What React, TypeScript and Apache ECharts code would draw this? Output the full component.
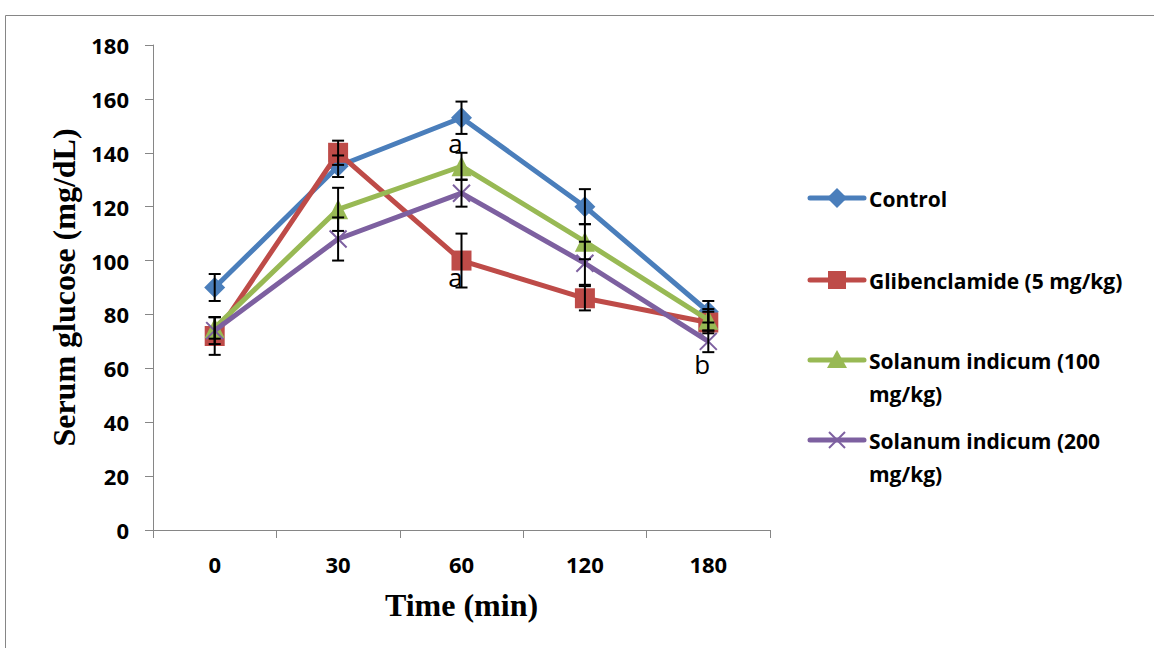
import React, { useEffect, useRef } from "react";
import * as echarts from "echarts";

const categories = ["0", "30", "60", "120", "180"];
const seriesNames = [
  "Control",
  "Glibenclamide (5 mg/kg)",
  "Solanum indicum (100 mg/kg)",
  "Solanum indicum (200 mg/kg)",
];
const controlValues = [90, 135, 153, 120, 81];
const glibValues = [72, 140, 100, 86, 77];
const sol100Values = [75, 119, 135, 107, 78];
const sol200Values = [74, 108, 125, 99, 70];
const controlErr = [5, 4, 6, 6.5, 4];
const glibErr = [7, 4.5, 10, 4.5, 4];
const sol100Err = [4, 8, 5, 6.5, 4];
const sol200Err = [5, 8, 5, 8, 4];
const annotations = [
  { x: 2, y: 143.5, text: "a" },
  { x: 2, y: 94, text: "a" },
  { x: 4, y: 61.5, text: "b" },
];
const colors = ["#4a7ebb", "#be4b48", "#98b954", "#7d60a0"];

const X_PATH = "path://M0,0 L10,10 M10,0 L0,10";

export default function App() {
  const ref = useRef<HTMLDivElement>(null);
  useEffect(() => {
    if (!ref.current) return;
    const chart = echarts.init(ref.current, undefined, { renderer: "svg" });
    const values = [controlValues, glibValues, sol100Values, sol200Values];
    const errs = [controlErr, glibErr, sol100Err, sol200Err];
    const errData: number[][] = [];
    values.forEach((vals, s) => {
      vals.forEach((v, i) => {
        errData.push([i, v - errs[s][i], v + errs[s][i]]);
      });
    });
    const symbols = ["diamond", "rect", "triangle", X_PATH];
    const symbolSizes = [21, 20, 20, 17];
    const lineSeries = values.map((vals, s) => ({
      type: "line",
      name: seriesNames[s],
      data: vals,
      symbol: symbols[s],
      symbolSize: symbolSizes[s],
      lineStyle: { color: colors[s], width: 5 },
      itemStyle:
        s === 3
          ? { color: "rgba(0,0,0,0)", borderColor: colors[s], borderWidth: 2 }
          : { color: colors[s], borderWidth: 0 },
      z: 2 + s,
    }));
    const legendTops = [198, 280, 360, 440];
    const legendTexts = [
      "Control",
      "Glibenclamide (5 mg/kg)",
      "Solanum indicum (100\nmg/kg)",
      "Solanum indicum (200\nmg/kg)",
    ];
    const legendGraphics: any[] = [];
    legendTops.forEach((y, s) => {
      legendGraphics.push({
        type: "line",
        shape: { x1: 810, y1: y, x2: 864, y2: y },
        style: { stroke: colors[s], lineWidth: 5, lineCap: "round" },
      });
      if (s === 0) {
        legendGraphics.push({
          type: "polygon",
          shape: { points: [[837, y - 10], [847, y], [837, y + 10], [827, y]] },
          style: { fill: colors[s] },
        });
      } else if (s === 1) {
        legendGraphics.push({
          type: "rect",
          shape: { x: 828, y: y - 9, width: 18, height: 18 },
          style: { fill: colors[s] },
        });
      } else if (s === 2) {
        legendGraphics.push({
          type: "polygon",
          shape: { points: [[837, y - 10], [847, y + 8], [827, y + 8]] },
          style: { fill: colors[s] },
        });
      } else {
        legendGraphics.push({
          type: "line",
          shape: { x1: 829, y1: y - 8, x2: 845, y2: y + 8 },
          style: { stroke: colors[s], lineWidth: 2 },
        });
        legendGraphics.push({
          type: "line",
          shape: { x1: 845, y1: y - 8, x2: 829, y2: y + 8 },
          style: { stroke: colors[s], lineWidth: 2 },
        });
      }
      legendGraphics.push({
        type: "text",
        x: 869,
        y: y - 16,
        style: {
          text: legendTexts[s],
          font: "bold 21px 'Open Sans'",
          fill: "#000",
          lineHeight: 33,
          textVerticalAlign: "top",
        },
      });
    });
    chart.setOption({
      animation: false,
      backgroundColor: "#fff",
      grid: { left: 153, right: 384, top: 45, bottom: 118 },
      xAxis: {
        type: "category",
        data: categories,
        boundaryGap: true,
        name: "Time (min)",
        nameLocation: "middle",
        nameGap: 59,
        nameTextStyle: {
          fontFamily: "Liberation Serif",
          fontWeight: "bold",
          fontSize: 32,
          color: "#000",
        },
        axisLine: { lineStyle: { color: "#868686", width: 1 } },
        axisTick: { show: true, length: 8, lineStyle: { color: "#868686" } },
        axisLabel: {
          fontFamily: "Open Sans",
          fontWeight: "bold",
          fontSize: 22,
          color: "#000",
          margin: 23,
        },
        splitLine: { show: false },
      },
      yAxis: {
        type: "value",
        min: 0,
        max: 180,
        interval: 20,
        name: "Serum glucose (mg/dL)",
        nameLocation: "middle",
        nameGap: 67,
        nameRotate: 90,
        nameTextStyle: {
          fontFamily: "Liberation Serif",
          fontWeight: "bold",
          fontSize: 32,
          color: "#000",
        },
        axisLine: { show: true, lineStyle: { color: "#868686", width: 1 } },
        axisTick: { show: true, length: 8, inside: false, lineStyle: { color: "#868686" } },
        axisLabel: {
          fontFamily: "Open Sans",
          fontWeight: "bold",
          fontSize: 22,
          color: "#000",
          margin: 24,
        },
        splitLine: { show: false },
      },
      graphic: [
        {
          type: "polyline",
          shape: { points: [[5.5, 648], [5.5, 15.5], [1154, 15.5]] },
          style: { stroke: "#868686", lineWidth: 1, fill: "none" },
          silent: true,
        },
        ...legendGraphics,
      ],
      series: [
        ...lineSeries,
        {
          type: "custom",
          name: "errors",
          data: errData,
          z: 10,
          renderItem: (params: any, api: any) => {
            const x = api.value(0);
            const lo = api.coord([x, api.value(1)]);
            const hi = api.coord([x, api.value(2)]);
            const half = 6;
            const st = { stroke: "#000", lineWidth: 2 };
            return {
              type: "group",
              children: [
                { type: "line", shape: { x1: lo[0], y1: lo[1], x2: hi[0], y2: hi[1] }, style: st },
                { type: "line", shape: { x1: lo[0] - half, y1: lo[1], x2: lo[0] + half, y2: lo[1] }, style: st },
                { type: "line", shape: { x1: hi[0] - half, y1: hi[1], x2: hi[0] + half, y2: hi[1] }, style: st },
              ],
            };
          },
        },
        {
          type: "custom",
          name: "annotations",
          data: annotations.map((a) => [a.x, a.y]),
          z: 11,
          renderItem: (params: any, api: any) => {
            const p = api.coord([api.value(0), api.value(1)]);
            return {
              type: "text",
              x: p[0] - 6,
              y: p[1],
              style: {
                text: annotations[params.dataIndex].text,
                font: "26px 'Open Sans'",
                fill: "#000",
                textAlign: "center",
                textVerticalAlign: "middle",
              },
            };
          },
        },
      ],
    });
    return () => chart.dispose();
  }, []);
  return (
    <div
      ref={ref}
      style={{ position: "fixed", left: 0, top: 0, width: 1154, height: 648, background: "#fff" }}
    />
  );
}
